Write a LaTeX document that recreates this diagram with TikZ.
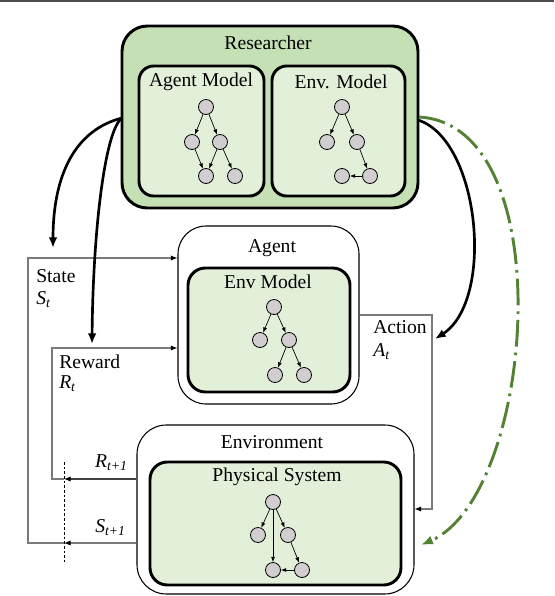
\documentclass[tikz,border=0pt]{standalone}
\usepackage{fontspec}
\setmainfont{Liberation Serif}
\usetikzlibrary{arrows.meta}

\definecolor{resgreen}{HTML}{C5E0B4}
\definecolor{modgreen}{HTML}{E2F0D9}
\definecolor{dagfill}{HTML}{D0CECE}
\definecolor{dashgreen}{HTML}{548235}
\definecolor{feedgray}{HTML}{7A7A7A}

\tikzset{
  bigbox/.style={draw, line width=2.2pt, rounded corners=19pt, fill=resgreen},
  modelbox/.style={draw, line width=2.2pt, rounded corners=11pt, fill=modgreen},
  roombox/.style={draw, line width=0.8pt, rounded corners=21pt, fill=white},
  title/.style={font=\fontsize{14.7}{17}\selectfont, inner sep=0pt},
  dag/.style={circle, draw, line width=0.6pt, fill=dagfill, minimum size=11.25pt, inner sep=0pt},
  dagedge/.style={-{Latex[length=4pt,width=3pt]}, line width=0.5pt},
  feed/.style={draw=feedgray, line width=0.8pt},
  feedtip/.style={-{Latex[length=5pt,width=4pt,color=black]}},
  bendarrow/.style={line width=2pt, -{Latex[length=8pt,width=6.5pt]}},
}

\begin{document}
\begin{tikzpicture}[x=0.75pt, y=-0.75pt]
  \useasboundingbox (0,0) rectangle (554,596);
  \draw[line width=1.3pt, black!70] (0,0.8) -- (554,0.8);

  % researcher
  \node[bigbox, minimum width=222pt, minimum height=136.5pt] (res) at (270,117) {};
  \node[title] (restitle) at (268,43) {Researcher};
  \node[modelbox, minimum width=93.75pt, minimum height=97.5pt] (agmod) at (201.5,131) {};
  \node[title] (agmodtitle) at (201,82) {Agent Model};
  \node[modelbox, minimum width=99.75pt, minimum height=97.5pt] (envmod) at (338.5,131) {};
  \node[title] (envmodtitle) at (341,82) {Env. Model};

	\node[dag] (a1) at (206,107) {};
	\node[dag] (a2) at (192,142) {};
	\node[dag] (a3) at (220,142) {};
	\node[dag] (a4) at (206,176) {};
	\node[dag] (a5) at (235,176) {};
	\draw[dagedge] (a1) -- (a2);
	\draw[dagedge] (a1) -- (a3);
	\draw[dagedge] (a2) -- (a4);
	\draw[dagedge] (a3) -- (a4);
	\draw[dagedge] (a3) -- (a5);

	\node[dag] (e1) at (342,107) {};
	\node[dag] (e2) at (327,142) {};
	\node[dag] (e3) at (357,142) {};
	\node[dag] (e4) at (342,176) {};
	\node[dag] (e5) at (370,176) {};
	\draw[dagedge] (e1) -- (e2);
	\draw[dagedge] (e1) -- (e3);
	\draw[dagedge] (e3) -- (e5);
	\draw[dagedge] (e5) -- (e4);

  % agent
  \node[roombox, minimum width=135.75pt, minimum height=133.5pt] (agent) at (268.5,315) {};
  \node[title] (agenttitle) at (272,248) {Agent};
  \node[modelbox, rounded corners=13pt, minimum width=121.5pt, minimum height=93pt] (agenv) at (269,330) {};
  \node[title] (agenvtitle) at (268,282) {Env Model};

	\node[dag] (m1) at (274,307) {};
	\node[dag] (m2) at (260,340) {};
	\node[dag] (m3) at (289,340) {};
	\node[dag] (m4) at (275,375) {};
	\node[dag] (m5) at (304,375) {};
	\draw[dagedge] (m1) -- (m2);
	\draw[dagedge] (m1) -- (m3);
	\draw[dagedge] (m3) -- (m4);
	\draw[dagedge] (m3) -- (m5);

  % environment
  \node[roombox, rounded corners=22pt, minimum width=207.75pt, minimum height=126.75pt] (environment) at (275.5,509.5) {};
  \node[title] (envtitle) at (272,442) {Environment};
  \node[modelbox, rounded corners=13pt, minimum width=188.25pt, minimum height=92.25pt] (phys) at (275.5,523.5) {};
  \node[title] (phystitle) at (277,477) {Physical System};

	\node[dag] (p1) at (273,502) {};
	\node[dag] (p2) at (258,535) {};
	\node[dag] (p3) at (288,535) {};
	\node[dag] (p4) at (273,570) {};
	\node[dag] (p5) at (302,570) {};
	\draw[dagedge] (p1) -- (p2);
	\draw[dagedge] (p1) -- (p3);
	\draw[dagedge] (p1) -- (p4);
	\draw[dagedge] (p3) -- (p5);
	\draw[dagedge] (p5) -- (p4);

  % feedback loops
  \coordinate (rdiv) at (64,479);
  \coordinate (sdiv) at (64,543);
  \coordinate (stop) at (28,258);
  \coordinate (rtop) at (52,348);
  \coordinate (divtop) at (64,462);
  \coordinate (divbot) at (64,562);
  \draw[dash pattern=on 2pt off 1.5pt, line width=0.5pt] (divtop) -- (divbot);

	\draw[feed, feedtip] (sdiv) -| (stop) -- (agent.west |- stop);
	\draw[feed, feedtip] (rdiv) -| (rtop) -- (agent.west |- rtop);
	\draw[feed, feedtip] (environment.west |- sdiv) -- (sdiv);
	\draw[feed, draw=black!75, feedtip] (environment.west |- rdiv) -- (rdiv);

  \coordinate (atop) at (432,315);
  \coordinate (abot) at (432,509);
	\draw[feed, feedtip] (agent.east |- atop) -- (atop) -- (abot) -- (environment.east |- abot);

	\node[title, anchor=west] (statelbl) at (36,276) {State};
	\node[title, anchor=west] (stlbl) at (36,300) {\textit{S}\textsubscript{\textit{t}}};
	\node[title, anchor=west] (rewardlbl) at (59,362) {Reward};
	\node[title, anchor=west] (rtlbl) at (59,384) {\textit{R}\textsubscript{\textit{t}}};
	\node[title, anchor=west] (actionlbl) at (373,327) {Action};
	\node[title, anchor=west] (atlbl) at (373,352) {\textit{A}\textsubscript{\textit{t}}};
	\node[title, anchor=east] (rnextlbl) at (128,463) {\textit{R}\textsubscript{\textit{t+1}}};
	\node[title, anchor=east] (snextlbl) at (126,528) {\textit{S}\textsubscript{\textit{t+1}}};

  % researcher influence
  \coordinate (resl) at (122,118);
  \coordinate (resr) at (418,120);
  \coordinate (resg) at (419,117);
  \coordinate (statetip) at (53,248);
  \coordinate (rewardtip) at (92,344);
  \coordinate (actiontip) at (435,339);
  \coordinate (envtip) at (421,545);
	\draw[bendarrow] (resl) .. controls (75,130) and (53,175) .. (statetip);
	\draw[bendarrow] (resl) .. controls (105,130) and (93,230) .. (rewardtip);
	\draw[bendarrow] (resr) .. controls (480,140) and (495,300) .. (actiontip);
	\draw[dashgreen, line width=2.2pt, dash pattern=on 20pt off 4.5pt on 2pt off 4.5pt,
	  -{Latex[length=9pt,width=7pt]}] (resg) .. controls (563,125) and (535,495) .. (envtip);
\end{tikzpicture}
\end{document}
